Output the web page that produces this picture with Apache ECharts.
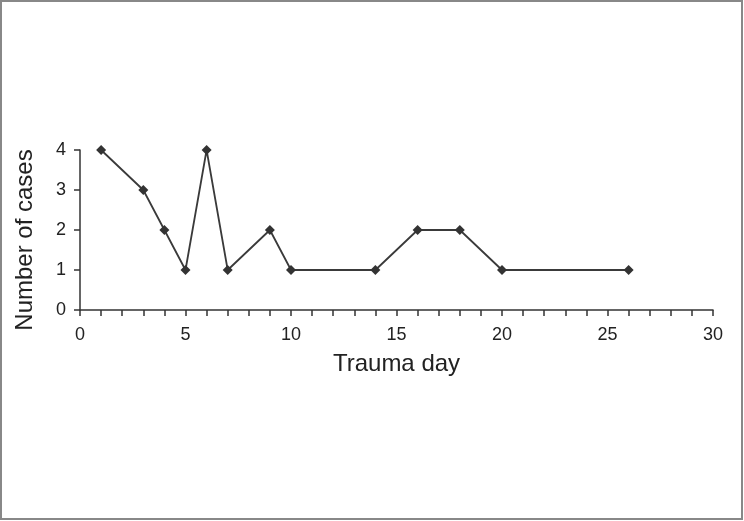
<!DOCTYPE html>
<html><head><meta charset="utf-8">
<script src="https://cdn.jsdelivr.net/npm/echarts@6/dist/echarts.min.js"></script>
<style>html,body{margin:0;padding:0;background:#fff}#c{width:744px;height:521px}</style>
</head><body><div id="c"></div>
<script>
const traumaDays = [1, 3, 4, 5, 6, 7, 9, 10, 14, 16, 18, 20, 26];
const numberOfCases = [4, 3, 2, 1, 4, 1, 2, 1, 1, 2, 2, 1, 1];
const xTitle = 'Trauma day';
const yTitle = 'Number of cases';

const chart = echarts.init(document.getElementById('c'));
const axisCol = '#333';
chart.setOption({
  animation: false,
  backgroundColor: '#fff',
  graphic: [{type:'rect', shape:{x:1, y:1, width:741, height:518}, style:{fill:'none', stroke:'#888', lineWidth:2}}],
  grid: {left: 80, right: 31, top: 150, bottom: 211},
  xAxis: {
    type: 'value', min: 0, max: 30, interval: 5,
    name: xTitle, nameLocation: 'middle', nameGap: 42,
    nameTextStyle: {fontFamily: 'Liberation Sans', fontSize: 24, color: '#222'},
    axisLine: {lineStyle: {color: axisCol, width: 1.5}},
    axisTick: {show: true, length: 6, lineStyle: {color: axisCol, width: 1.5}},
    minorTick: {show: true, splitNumber: 5, length: 6, lineStyle: {color: axisCol, width: 1.5}},
    axisLabel: {fontFamily: 'Liberation Sans', fontSize: 18, color: '#222', margin: 16},
    splitLine: {show: false}
  },
  yAxis: {
    type: 'value', min: 0, max: 4, interval: 1,
    name: yTitle, nameLocation: 'middle', nameGap: 43, nameRotate: 90,
    nameTextStyle: {fontFamily: 'Liberation Sans', fontSize: 24, color: '#222', padding: [0, 20, 0, 0]},
    axisLine: {show: true, lineStyle: {color: axisCol, width: 1.5}},
    axisTick: {show: true, length: 6, lineStyle: {color: axisCol, width: 1.5}},
    axisLabel: {fontFamily: 'Liberation Sans', fontSize: 18, color: '#222', margin: 14},
    splitLine: {show: false}
  },
  series: [{
    type: 'line',
    data: traumaDays.map((d, i) => [d, numberOfCases[i]]),
    symbol: 'diamond', symbolSize: 10,
    itemStyle: {color: '#333'},
    lineStyle: {color: '#3a3a3a', width: 1.8}
  }]
});
</script></body></html>
